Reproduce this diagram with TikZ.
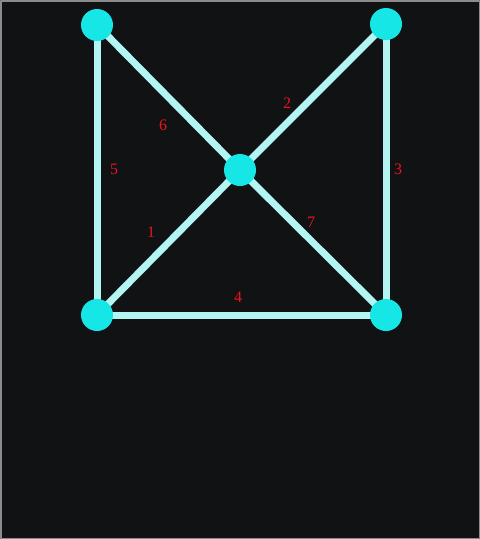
\documentclass[tikz,border=0pt]{standalone}
\usepackage{fontspec}
\setmainfont{Liberation Serif}
\usepackage{tikz}
\usetikzlibrary{positioning,calc}

\begin{document}
\begin{tikzpicture}[
		x=1pt,y=-1pt,
		line cap=round,line join=round,
		font=\fontsize{16}{19}\selectfont
		]
		% ---- colors
		\definecolor{boardBlack}{RGB}{17,18,20}
		\definecolor{frameGray}{RGB}{140,140,140}
		\definecolor{edgeCyan}{RGB}{178,245,243}
		\definecolor{vertCyan}{RGB}{22,230,230}
		\definecolor{lblRed}{RGB}{235,20,30}
		
		% ---- parameters
		\def\rad{16}
		\def\ew{7}
		
		\tikzset{
			vert/.style={circle, fill=vertCyan, draw=none, minimum size=2*\rad pt, inner sep=0pt, outer sep=0pt},
			edge/.style={edgeCyan, line width=\ew pt, line cap=butt},
			lbl/.style={text=lblRed, inner sep=0pt}
		}
		
		% ---- background + frame
		\fill[boardBlack] (0,0) rectangle (480,539);
		\draw[frameGray, line width=1.5pt] (0.75,0.75) rectangle (479.25,538.25);
		\useasboundingbox (0,0) rectangle (480,539);
		
		% ---- edges first (vertices drawn on top)
		\coordinate (TL) at (97,25);
		\coordinate (TR) at (386,24);
		\coordinate (C)  at (240,170);
		\coordinate (BL) at (97,315);
		\coordinate (BR) at (386,315);
		
		\draw[edge] (TL) -- (BL);
		\draw[edge] (TL) -- (C);
		\draw[edge] (C) -- (TR);
		\draw[edge] (TR) -- (BR);
		\draw[edge] (BL) -- (C);
		\draw[edge] (C) -- (BR);
		\draw[edge] (BL) -- (BR);
		
		% ---- vertices
		\foreach \v in {TL,TR,C,BL,BR}{
			\node[vert] (V\v) at (\v) {};
		}
		
		% ---- edge labels
		\node[lbl] (L6) at (163,125) {6};
		\node[lbl] (L2) at (287,103) {2};
		\node[lbl] (L5) at (114,169) {5};
		\node[lbl] (L3) at (398,169) {3};
		\node[lbl] (L1) at (151,232) {1};
		\node[lbl] (L7) at (311,222) {7};
		\node[lbl] (L4) at (238,297) {4};
		
	\end{tikzpicture}
\end{document}
